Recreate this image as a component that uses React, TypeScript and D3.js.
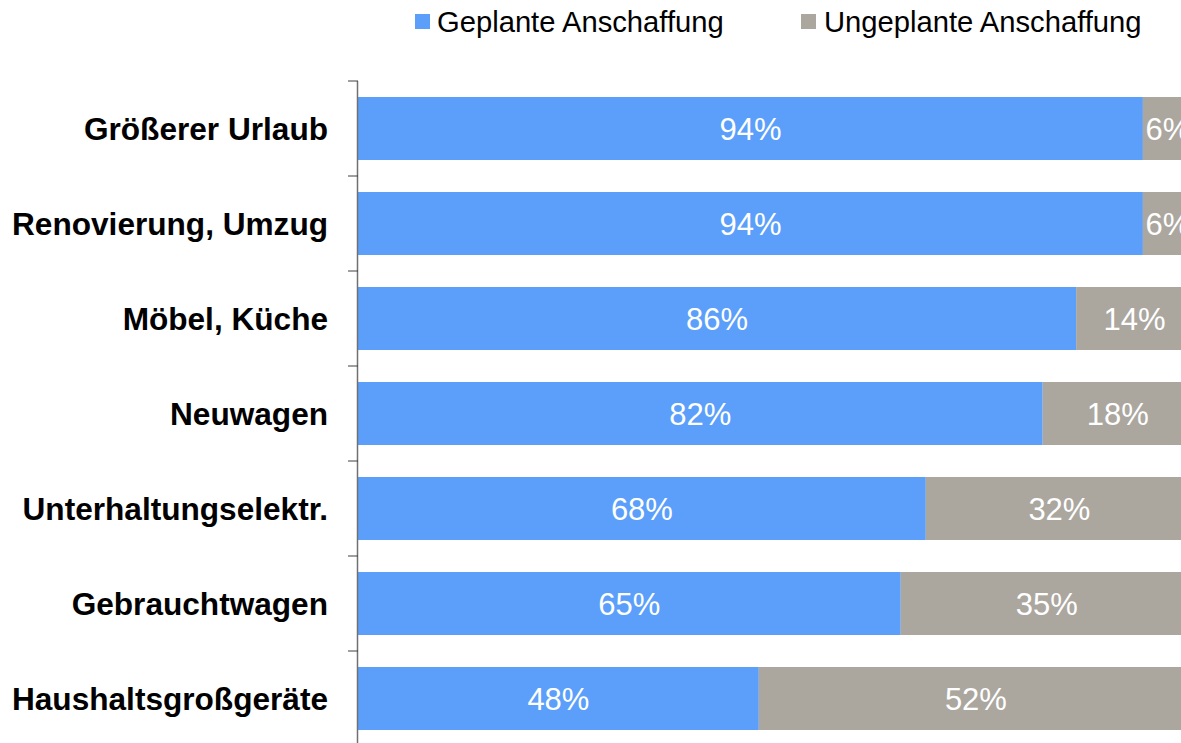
import React from "react";
import * as d3 from "d3";

const categories = [
  "Größerer Urlaub",
  "Renovierung, Umzug",
  "Möbel, Küche",
  "Neuwagen",
  "Unterhaltungselektr.",
  "Gebrauchtwagen",
  "Haushaltsgroßgeräte",
];
const planned = [94, 94, 86, 82, 68, 65, 48];
const unplanned = [6, 6, 14, 18, 32, 35, 52];
const seriesNames = ["Geplante Anschaffung", "Ungeplante Anschaffung"];
const colors = ["#5B9FFA", "#ABA79F"];

const W = 1181;
const H = 743;
const FONT = "'Liberation Sans', Arial, sans-serif";

export default function App() {
  const x = d3.scaleLinear().domain([0, 100]).range([358, 1193]);
  const y = d3.scaleBand<string>().domain(categories).range([81, 746]).paddingInner(0).paddingOuter(0);
  const bw = y.bandwidth();
  const barH = 63;
  const inset = (bw - barH) / 2;

  const stackData = categories.map((c, i) => ({ cat: c, p: planned[i], u: unplanned[i] }));
  const stack = d3.stack<any>().keys(["p", "u"])(stackData);

  const ticks = categories.map((c) => y(c)!).concat([y(categories[categories.length - 1])! + bw]);

  return (
    <svg
      width={W}
      height={H}
      style={{ position: "absolute", left: 0, top: 0, display: "block", background: "#fff" }}
      fontFamily={FONT}
    >
      {/* legend */}
      <g>
        <rect x={415} y={14} width={15} height={15} fill={colors[0]} />
        <text x={437} y={32} fontSize={29.2} fill="#000">{seriesNames[0]}</text>
        <rect x={801} y={14} width={15} height={15} fill={colors[1]} />
        <text x={824} y={32} fontSize={29.2} fill="#000">{seriesNames[1]}</text>
      </g>
      {/* bars */}
      {stack.map((s, si) => (
        <g key={si}>
          {s.map((d, i) => {
            const x0 = x(d[0]);
            const x1 = x(d[1]);
            const yy = y(categories[i])! + inset;
            return (
              <g key={i}>
                <rect x={x0} y={yy} width={x1 - x0} height={barH} fill={colors[si]} />
                <text
                  x={(x0 + x1) / 2}
                  y={yy + barH / 2}
                  dy="0.36em"
                  textAnchor="middle"
                  fontSize={31}
                  fill="#fff"
                >
                  {`${d[1] - d[0]}%`}
                </text>
              </g>
            );
          })}
        </g>
      ))}
      {/* axis */}
      <line x1={357.5} x2={357.5} y1={81} y2={746} stroke="#707070" strokeWidth={1.5} />
      {ticks.map((t, i) => (
        <line key={i} x1={348} x2={358} y1={t} y2={t} stroke="#404040" strokeWidth={1} />
      ))}
      {categories.map((c) => (
        <text
          key={c}
          x={328}
          y={y(c)! + bw / 2}
          dy="0.36em"
          textAnchor="end"
          fontSize={31.6}
          fontWeight="bold"
          fill="#000"
        >
          {c}
        </text>
      ))}
    </svg>
  );
}
